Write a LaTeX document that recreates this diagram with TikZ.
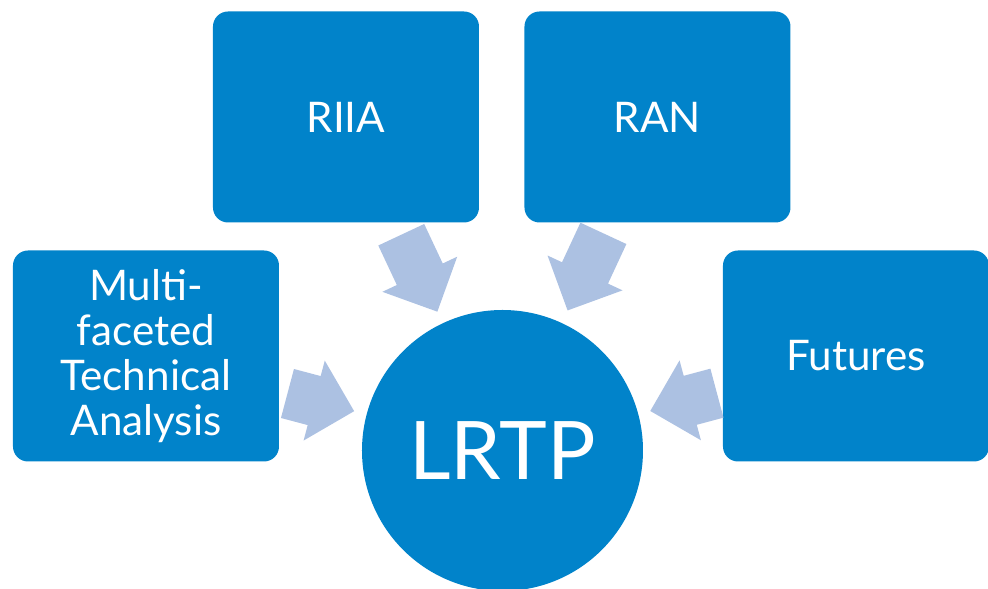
\documentclass[tikz,border=0pt]{standalone}
\usepackage{fontspec}
\setmainfont{Lato}
\usetikzlibrary{positioning, shapes.arrows}

\definecolor{boxblue}{RGB}{1,131,202}
\definecolor{arrowblue}{RGB}{172,193,226}

\begin{document}
\begin{tikzpicture}[on grid, every node/.style={font=\fontsize{24}{25.5}\selectfont}]

% Define styles for the diagram
\tikzstyle{source} = [rectangle, rounded corners=0.3cm, minimum width=5.32cm, minimum height=4.22cm, text centered, align=center, fill=boxblue, text=white, inner sep=0pt]
\tikzstyle{target} = [circle, minimum size=5.62cm, fill=boxblue, text=white, inner sep=0pt, font=\fontsize{46}{50}\selectfont]
\tikzstyle{blockarrow} = [single arrow, single arrow head extend=0.32cm, single arrow tip angle=90, fill=arrowblue, inner xsep=0pt, inner ysep=0.5cm, sloped, allow upside down]

\clip (-10.05,-2.77) rectangle (9.71,9.01);

% Nodes
\node (lrtp) [target] at (0,0) {LRTP};
\node (riia) [source, above left=6.67cm and 3.13cm of lrtp] {RIIA};
\node (ran) [source, above right=6.67cm and 3.10cm of lrtp] {RAN};
\node (multi) [source, above left=1.89cm and 7.13cm of lrtp] {Multi-\\faceted\\Technical\\Analysis};
\node (futures) [source, above right=1.89cm and 7.07cm of lrtp] {Futures};

% Arrows
\path (riia.center) -- node [blockarrow, pos=0.434, minimum height=1.7cm] {} (lrtp.center);
\path (ran.center) -- node [blockarrow, pos=0.430, minimum height=1.7cm] {} (lrtp.center);
\path (multi.center) -- node [blockarrow, pos=0.456, minimum height=1.38cm] {} (lrtp.center);
\path (futures.center) -- node [blockarrow, pos=0.453, minimum height=1.38cm] {} (lrtp.center);

\end{tikzpicture}
\end{document}
